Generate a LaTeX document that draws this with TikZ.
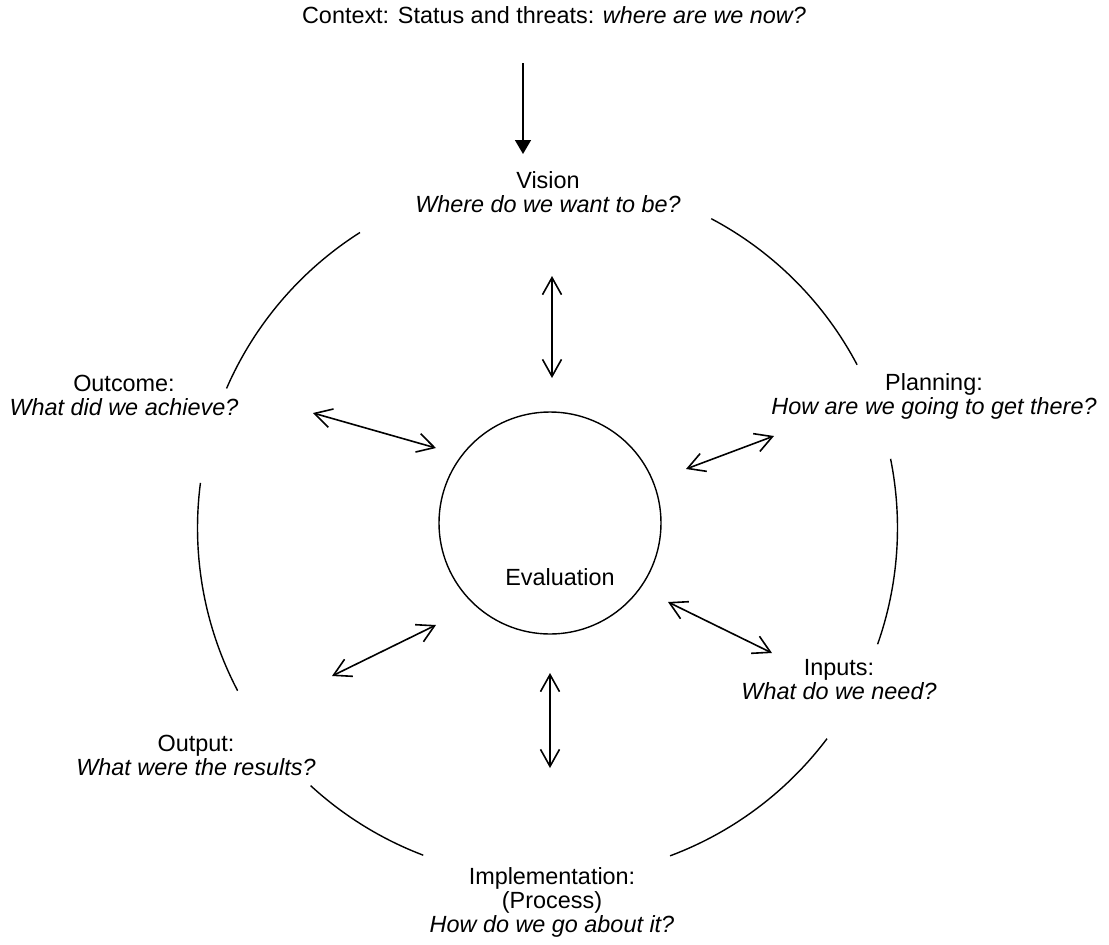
\documentclass[tikz,border=0pt]{standalone}
\usepackage{fontspec}
\setmainfont{Liberation Sans}
\usetikzlibrary{arrows.meta}

\begin{document}
\begin{tikzpicture}[
  x=0.5pt, y=-0.5pt,
  stage/.style={align=center, inner sep=0pt,
                font=\fontsize{11.7}{12}\selectfont},
  ring/.style={line width=0.7pt},
  link/.style={line width=0.8pt,
               {Straight Barb[length=8.5pt,width=9.5pt]}-{Straight Barb[length=8.5pt,width=9.5pt]}},
  feed/.style={line width=0.8pt, -{Triangle[length=7pt,width=8pt]}}
]
\useasboundingbox (0,0) rectangle (1109,944);

% Context on top
\node[stage] (ctx) at (554,15) {Context: Status and threats: \textit{where are we now?}};
\coordinate (ctx-s) at (523,63);
\coordinate (ctx-e) at (523,154);

% Stages round the cycle
\node[stage] (vis) at (548,192) {Vision\\\textit{Where do we want to be?}};
\node[stage] (plan) at (934,396) {Planning:\\\textit{How are we going to get there?}};
\node[stage] (inp) at (839,680) {Inputs:\\\textit{What do we need?}};
\node[stage] (impl) at (552,902) {Implementation:\\(Process)\\\textit{How do we go about it?}};
\node[stage] (outp) at (196,755) {Output:\\\textit{What were the results?}};
\node[stage] (outc) at (124,395) {Outcome:\\\textit{What did we achieve?}};

% Evaluation in the middle
\node[draw, circle, ring, minimum size=111pt] (eval) at (550,523) {};
\node[stage] (evallbl) at (560,577) {Evaluation};

% Outer ring, broken at each stage
\coordinate (hub) at (547.5,528);
\draw[ring] (hub) ++(-122.4:350) arc[start angle=-122.4, end angle=-156.5, radius=350];
\draw[ring] (hub) ++(-62.1:350) arc[start angle=-62.1, end angle=-27.8, radius=350];
\draw[ring] (hub) ++(-11.4:350) arc[start angle=-11.4, end angle=19.4, radius=350];
\draw[ring] (hub) ++(37:350) arc[start angle=37, end angle=69.5, radius=350];
\draw[ring] (hub) ++(110.8:350) arc[start angle=110.8, end angle=132.6, radius=350];
\draw[ring] (hub) ++(152.3:350) arc[start angle=152.3, end angle=187.4, radius=350];

% Arrow ends
\coordinate (vis-a) at (552,276);
\coordinate (vis-b) at (552,378);
\coordinate (plan-a) at (774,436);
\coordinate (plan-b) at (686,469);
\coordinate (inp-a) at (668,602);
\coordinate (inp-b) at (772,653);
\coordinate (impl-a) at (550,673);
\coordinate (impl-b) at (550,768);
\coordinate (outp-a) at (436,625);
\coordinate (outp-b) at (332,676);
\coordinate (outc-a) at (313,413);
\coordinate (outc-b) at (436,448);

% Connections
\draw[feed] (ctx-s) -- (ctx-e);
\draw[link] (vis-a) -- (vis-b);
\draw[link] (plan-a) -- (plan-b);
\draw[link] (inp-a) -- (inp-b);
\draw[link] (impl-a) -- (impl-b);
\draw[link] (outp-a) -- (outp-b);
\draw[link] (outc-a) -- (outc-b);

\end{tikzpicture}
\end{document}
